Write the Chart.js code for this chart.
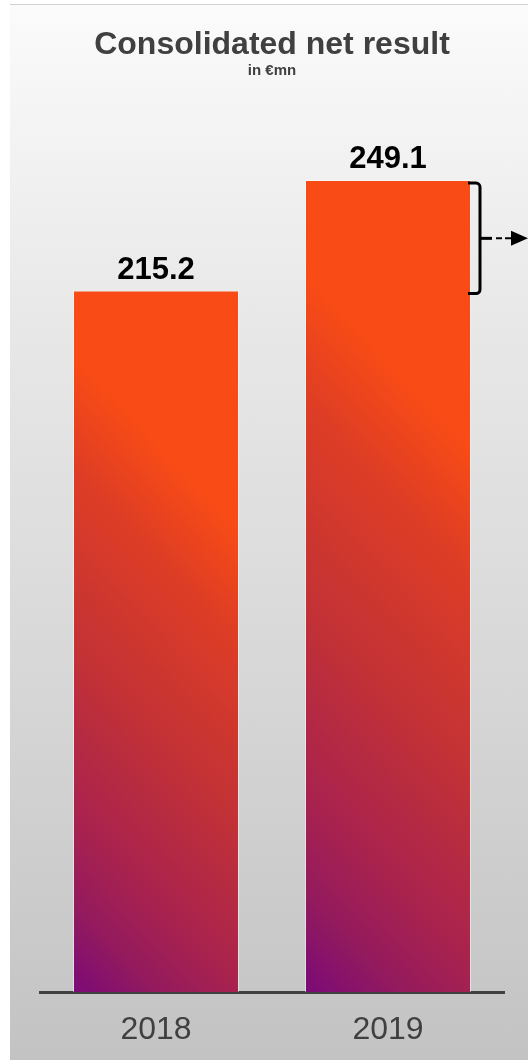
<!DOCTYPE html>
<html>
<head>
<meta charset="utf-8">
<script src="https://cdn.jsdelivr.net/npm/chart.js@4"></script>
<style>
  html, body { margin: 0; padding: 0; background: #fff; }
  #wrap { position: relative; width: 528px; height: 1061px; overflow: hidden; }
  #panel {
    position: absolute; left: 10px; top: 4px; right: 0; bottom: 1px;
    background: linear-gradient(180deg, #fbfbfb 0%, #e9e9e9 28%, #d9d9d9 60%, #c3c3c3 100%);
    border-top: 1px solid #d0d0d0;
  }
  #chart { position: absolute; left: 0; top: 0; }
</style>
</head>
<body>
<div id="wrap">
  <div id="panel"></div>
  <canvas id="chart" width="528" height="1061"></canvas>
</div>
<script>
const years  = ['2018', '2019'];
const result = [215.2, 249.1];

const FONT = "'Liberation Sans', Arial, sans-serif";
const BAR_PCT = 0.7155;

// 45° fill, purple at the bottom-left corner running up to orange
function barFill(ctx) {
  const chart = ctx.chart;
  if (!chart.chartArea || ctx.type !== 'data') return '#f84b16';
  const xs = chart.scales.x, ys = chart.scales.y;
  const half = (xs.width / years.length) * BAR_PCT / 2;
  const left = xs.getPixelForValue(ctx.dataIndex) - half;
  const bottom = ys.getPixelForValue(0);
  const top = ys.getPixelForValue(result[ctx.dataIndex]);
  const ux = 0.72, uy = -0.69;
  const len = ux * half * 2 + (-uy) * (bottom - top);
  const g = chart.ctx.createLinearGradient(left, bottom, left + ux * len, bottom + uy * len);
  g.addColorStop(0.00, '#7a0a78');
  g.addColorStop(0.10, '#931a5e');
  g.addColorStop(0.20, '#a8224f');
  g.addColorStop(0.40, '#c33235');
  g.addColorStop(0.60, '#dd3d26');
  g.addColorStop(0.73, '#f84b16');
  g.addColorStop(1.00, '#f84b16');
  return g;
}

const valueLabels = {
  id: 'valueLabels',
  afterDatasetsDraw(chart) {
    const ctx = chart.ctx;
    const meta = chart.getDatasetMeta(0);
    ctx.save();
    ctx.font = `bold 31px ${FONT}`;
    ctx.fillStyle = '#000';
    ctx.textAlign = 'center';
    ctx.textBaseline = 'alphabetic';
    meta.data.forEach((bar, i) => {
      ctx.fillText(result[i].toFixed(1), bar.x, bar.y - 12);
    });
    ctx.restore();
  }
};

// bracket spanning the increase, with a dashed arrow pointing right
const deltaBracket = {
  id: 'deltaBracket',
  afterDatasetsDraw(chart) {
    const ctx = chart.ctx;
    const ys = chart.scales.y;
    const last = chart.getDatasetMeta(0).data[1];
    const x = last.x + last.width / 2 + 9;
    const y1 = ys.getPixelForValue(result[1]) + 3;
    const y2 = ys.getPixelForValue(result[0]) + 3;
    const mid = (y1 + y2) / 2;
    const r = 4;
    ctx.save();
    ctx.strokeStyle = '#000';
    ctx.fillStyle = '#000';
    ctx.lineWidth = 3;
    ctx.beginPath();
    ctx.moveTo(x - 12, y1);
    ctx.arcTo(x, y1, x, y1 + r, r);
    ctx.lineTo(x, y2 - r);
    ctx.arcTo(x, y2, x - r, y2, r);
    ctx.lineTo(x - 12, y2);
    ctx.stroke();
    ctx.beginPath();
    ctx.moveTo(x, mid);
    ctx.lineTo(x + 12, mid);
    ctx.stroke();
    ctx.lineWidth = 2;
    ctx.setLineDash([6, 3]);
    ctx.beginPath();
    ctx.moveTo(x + 16, mid);
    ctx.lineTo(x + 32, mid);
    ctx.stroke();
    ctx.setLineDash([]);
    ctx.beginPath();
    ctx.moveTo(x + 31, mid - 7.5);
    ctx.lineTo(x + 48, mid);
    ctx.lineTo(x + 31, mid + 7.5);
    ctx.closePath();
    ctx.fill();
    ctx.restore();
  }
};

new Chart(document.getElementById('chart'), {
  type: 'bar',
  data: {
    labels: years,
    datasets: [{
      data: result,
      backgroundColor: barFill,
      borderColor: 'rgba(255, 255, 255, 0.45)',
      borderWidth: 1,
      borderSkipped: 'bottom',
      categoryPercentage: 1,
      barPercentage: BAR_PCT,
    }],
  },
  options: {
    responsive: false,
    animation: false,
    events: [],
    layout: { padding: { left: 40, right: 24, top: 0, bottom: 11.6 } },
    plugins: {
      legend: { display: false },
      tooltip: { enabled: false },
      title: {
        display: true,
        text: 'Consolidated net result',
        color: '#404040',
        font: { family: FONT, size: 32, weight: 'bold', lineHeight: 1.1 },
        padding: { top: 28, bottom: 0 },
      },
      subtitle: {
        display: true,
        text: 'in €mn',
        color: '#404040',
        font: { family: FONT, size: 15, weight: 'bold', lineHeight: 1.0 },
        padding: { top: 0, bottom: 1.2 },
      },
    },
    scales: {
      x: {
        grid: { display: false, drawTicks: false },
        border: { display: true, color: '#404040', width: 3 },
        ticks: {
          color: '#404040',
          padding: 19,
          font: { family: FONT, size: 32, lineHeight: 1.2 },
        },
        afterFit(scale) { scale.height = 57.4; },
      },
      y: {
        display: false,
        min: 0,
        max: 280,
      },
    },
  },
  plugins: [valueLabels, deltaBracket],
});
</script>
</body>
</html>
